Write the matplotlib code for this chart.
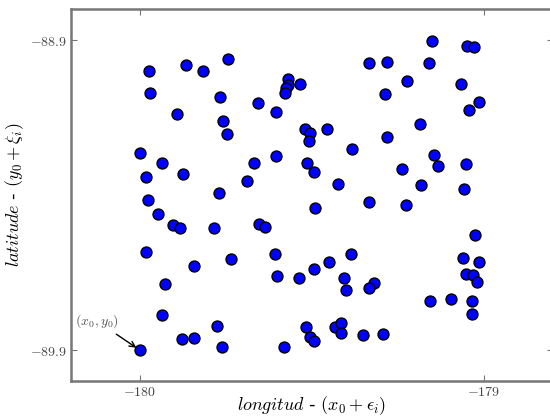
import numpy as np
import matplotlib
matplotlib.use('Agg')
import matplotlib.pyplot as plt

plt.rcParams['mathtext.fontset'] = 'cm'
plt.rcParams['font.family'] = 'DejaVu Sans'

# origin of the perturbed points
x0 = -180.0
y0 = -88.9 - 1.0

# perturbations (lon offset, lat offset from -88.9)
eps = [0.026, 0.135, 0.184, 0.255, 0.030, 0.233, 0.108, 0.242, 0.252, 0.432,
       0.432, 0.424, 0.422, 0.467, 0.343, 0.396, 0.480, 0.496, 0.493, 0.000,
       0.065, 0.017, 0.126, 0.396, 0.333, 0.486, 0.507, 0.311, 0.230, 0.024,
       0.848, 0.951, 0.972, 0.665, 0.719, 0.841, 0.777, 0.933, 0.712, 0.985,
       0.958, 0.544, 0.814, 0.719, 0.616, 0.854, 0.868, 0.947, 0.763, 0.575,
       0.818, 0.942, 0.667, 0.509, 0.054, 0.096, 0.117, 0.215, 0.347, 0.365,
       0.017, 0.159, 0.264, 0.394, 0.398, 0.464, 0.507, 0.074, 0.065, 0.225,
       0.124, 0.159, 0.238, 0.000, 0.419, 0.482, 0.494, 0.507, 0.773, 0.974,
       0.614, 0.549, 0.592, 0.600, 0.681, 0.667, 0.938, 0.985, 0.947, 0.967,
       0.981, 0.843, 0.904, 0.965, 0.965, 0.566, 0.586, 0.586, 0.649, 0.706]
xi = [0.902, 0.919, 0.902, 0.939, 0.831, 0.818, 0.761, 0.739, 0.696, 0.874,
      0.855, 0.844, 0.831, 0.857, 0.797, 0.767, 0.712, 0.702, 0.676, 0.636,
      0.602, 0.559, 0.569, 0.625, 0.604, 0.604, 0.574, 0.546, 0.508, 0.485,
      0.997, 0.980, 0.977, 0.927, 0.929, 0.927, 0.867, 0.857, 0.827, 0.800,
      0.776, 0.712, 0.731, 0.689, 0.649, 0.629, 0.595, 0.599, 0.584, 0.536,
      0.531, 0.519, 0.479, 0.459, 0.439, 0.404, 0.394, 0.394, 0.406, 0.397,
      0.318, 0.272, 0.294, 0.309, 0.239, 0.231, 0.261, 0.213, 0.113, 0.078,
      0.035, 0.039, 0.009, 0.000, 0.009, 0.075, 0.042, 0.028, 0.469, 0.371,
      0.309, 0.285, 0.231, 0.194, 0.218, 0.201, 0.298, 0.284, 0.246, 0.241,
      0.220, 0.158, 0.165, 0.158, 0.117, 0.075, 0.088, 0.055, 0.047, 0.051]

lon = x0 + np.array(eps)
lat = y0 + np.array(xi)

xticks = [-180, -179]
yticks = [-89.9, -88.9]

fig = plt.figure(figsize=(5.5, 4.16), dpi=100)
ax = fig.add_axes([0.129, 0.084, 0.876, 0.894])
ax.scatter(lon, lat, s=62, c='b', edgecolors='k', linewidths=1.0, zorder=3)

ax.annotate(r'$(x_0, y_0)$', xy=(x0, y0), xytext=(-180.125, -89.806),
            ha='center', va='center', fontsize=10, color='#555555',
            arrowprops=dict(arrowstyle='->', color='k', lw=1.0,
                            shrinkA=2, shrinkB=3))

ax.set_xlim(-180.2, -178.8)
ax.set_ylim(-90.0, -88.8)
ax.set_xticks(xticks)
ax.set_xticklabels([r'$-180$', r'$-179$'])
ax.set_yticks(yticks)
ax.set_yticklabels([r'$-89.9$', r'$-88.9$'])
ax.tick_params(direction='in', length=4, width=0.8, color='#777777',
               labelcolor='#444444', labelsize=10, pad=3, top=True, right=True)
for sp in ax.spines.values():
    sp.set_color('#777777')
    sp.set_linewidth(1.8)

ax.set_xlabel(r'$longitud$ - $(x_0 + \epsilon_i)$', fontsize=13, labelpad=-3.5)
ax.set_ylabel(r'$latitude$ - $(y_0 + \xi_i)$', fontsize=13, labelpad=3)

fig.savefig('out.png', dpi=100)
